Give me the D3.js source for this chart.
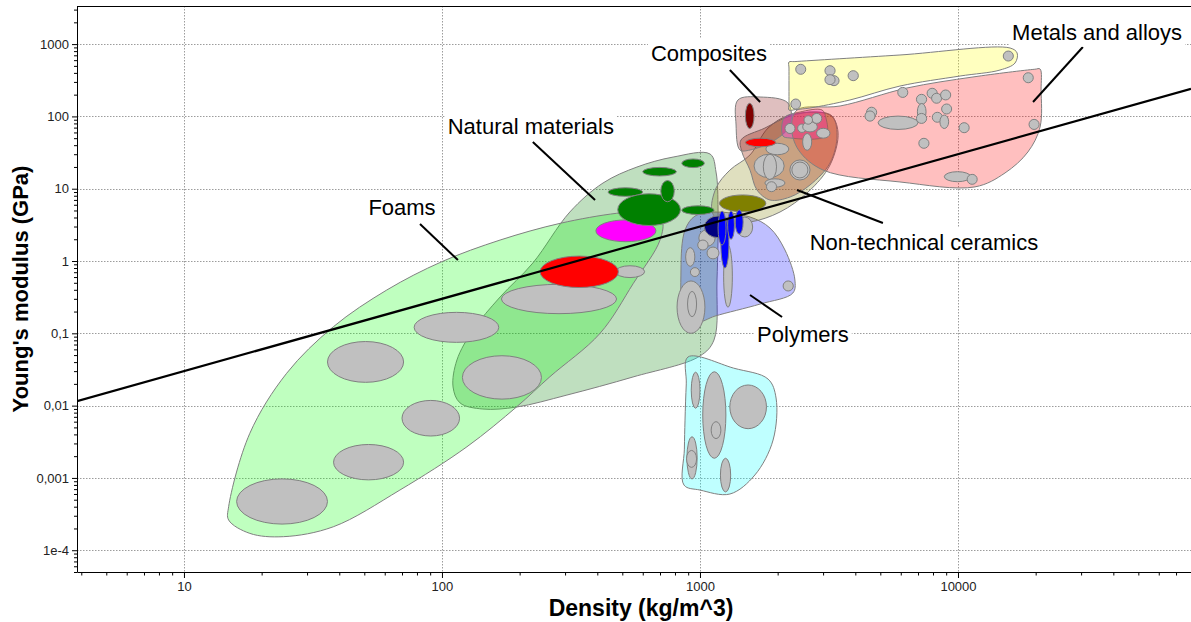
<!DOCTYPE html>
<html>
<head>
<meta charset="utf-8">
<script src="https://cdn.jsdelivr.net/npm/d3@7"></script>
<style>
  body { margin: 0; background: #fff; }
  svg { display: block; }
  text { font-family: Arial, "Liberation Sans", sans-serif; }
</style>
</head>
<body>
<svg id="chart" width="1191" height="622"></svg>
<script>
// ---- Axes ------------------------------------------------------------
const densityDomain = [3.85, 80000];          // kg/m^3
const modulusDomain = [5e-5, 3365];           // GPa
const xTickValues = [10, 100, 1000, 10000];
const xTickLabels = ["10", "100", "1000", "10000"];
const yTickValues = [1e-4, 1e-3, 0.01, 0.1, 1, 10, 100, 1000];
const yTickLabels = ["1e-4", "0,001", "0,01", "0,1", "1", "10", "100", "1000"];
const xTitle = "Density (kg/m^3)";
const yTitle = "Young's modulus (GPa)";
const guideRatio = 0.003;                     // E / rho guide line

// ---- Family envelopes: [density, modulus] outline points --------------
const naturalEnvelope = [[1094,30.2],[1154,17.0],[1175,5.08],[1164,0.546],[1133,0.0808],[1000,0.0485],
  [550,0.0249],[305,0.0140],[195,0.00957],[144,0.00897],[117.5,0.0109],[110.4,0.0181],[114.3,0.0428],
  [131.9,0.111],[168,0.318],[225,0.938],[313,4.76],[421,12.0],[570,19.95],[787,27.4]];
const foamEnvelope = [[14.9,4.0e-4],[18.0,4.14e-3],[25.0,0.028],[37.9,0.123],[61.1,0.397],[99.8,0.978],
  [168,1.95],[287,3.32],[475,4.57],[603,4.81],[711,3.69],[700,1.95],[552,0.492],[410,0.1],[262,0.0251],
  [195,0.00966],[125,0.0027],[68.7,6.8e-4],[37.9,2.11e-4],[24.3,1.54e-4],[18.0,1.71e-4],[14.9,2.62e-4]];
const elastomerEnvelope = [[898,0.047],[1350,0.033],[1836,0.0233],[1972,0.01274],[1920,0.00334],
  [1633,0.0011],[1306,5.99e-4],[1000,6.8e-4],[867,7.97e-4],[870,0.0025],[875,0.0063],[885,0.02]];
const polymerEnvelope = [[875,2.68],[957,4.19],[1143,4.76],[1563,4.06],[1868,2.86],[2135,1.42],
  [2333,0.546],[2291,0.361],[1710,0.254],[1143,0.173],[982,0.143],[875,0.173],[844,0.751]];
const nonTechCeramicEnvelope = [[1114,4.76],[1154,10.2],[1306,18.1],[1563,29.3],[1836,69.1],[2234,104.5],
  [3192,104.5],[3428,60.8],[3192,21.3],[2624,9.0],[2042,4.76],[1563,3.46],[1216,3.46]];
const techCeramicEnvelope = [[1442,47.2],[1786,69.1],[2234,101.3],[2793,115],[3251,101.3],[3398,55.3],
  [3192,22.7],[2669,11.25],[2234,7.68],[1868,6.98],[1663,9.6],[1563,18.1],[1454,32.2]];
const compositeEnvelope = [[1403,168.6],[1710,185.5],[2193,153.2],[2234,76.0],[1954,47.2],[1563,34.3],
  [1429,34.3],[1380,76.0]];
const fibreCompositeEnvelope = [[2118,95.1],[2444,115],[2973,122.5],[3078,95.1],[3078,53.6],[2234,50.3],[2097,53.6]];
const nonFerrousEnvelope = [[2377,122.5],[3491,139.3],[6339,247],[11430,351],[19860,449],[20800,452.5],
  [20990,232],[20800,71.3],[18660,32.2],[15210,16.5],[11640,10.6],[5957,12.4],[3001,18.1],[2410,34.3],[2265,69.1]];
const ferrousEnvelope = [[2213,565],[2333,573],[5957,707],[15920,883],[16950,753],[16640,548],[14550,438],
  [10190,362],[5957,263],[3811,168.6],[2669,130.7],[2355,124.5],[2213,122.5],[2213,148.5],[2213,467]];

// ---- Material bubbles: [rhoMin, rhoMax, Emin, Emax] -------------------
const foamCells = [[16,36,2.3e-4,9.7e-4],[38,71,9.4e-4,2.9e-3],[70,117,3.8e-3,0.0118],[36,71,0.021,0.077],
  [78,166,0.075,0.195],[120,243,0.0123,0.049],[170,475,0.187,0.476],[470,610,0.59,0.86]];
const foamRed = [[240,483,0.43,1.17]];
const corkMagenta = [[395,675,1.85,3.7]];
const naturalCells = [[440,600,7.85,10.3],[600,810,15,19.7],[850,1040,19.6,25.8],[480,840,3.1,8.5],
  [705,795,6.6,13],[850,1135,4.4,5.8]];
const oliveCells = [[1190,1800,4.8,8.2]];
const polymerCells = [[1235,1335,0.23,1.66],[1390,1600,2.15,4.05],[990,1145,1.6,2.7],[980,1075,1.42,1.95],
  [1065,1185,1.07,1.56],[880,955,0.845,1.53],[918,995,0.61,0.81],[815,1045,0.1,0.53],[895,970,0.17,0.38],
  [2100,2300,0.385,0.53]];
const navyCells = [[1040,1335,2.1,4.2]];
const blueCells = [[1205,1295,0.8,3.9],[1175,1262,1.66,4.92],[1280,1360,2.0,4.9],[1370,1470,2.35,5.1]];
const elastomerCells = [[925,1000,0.0092,0.029],[1025,1260,0.00187,0.0294],[1105,1205,0.0035,0.006],
  [1305,1810,0.0048,0.0193],[890,975,9.7e-4,3.7e-3],[887,970,0.0014,0.0024],[1200,1315,6.4e-4,1.87e-3]];
const darkRedCells = [[1500,1620,68,152]];
const redCompositeCells = [[1500,1965,38,50]];
const ceramicCells = [[1800,2210,29.5,42.5],[1620,2120,14.2,30],[1760,1980,13.4,30],[2230,2670,13.2,25],
  [2270,2620,14.1,23.4],[1785,2135,10.5,13.7],[1810,1980,9.1,12.5],[2500,2710,34,58],[2135,2335,58,80],
  [2390,2580,60,78.5],[2500,2850,61,84.5],[2710,2965,80,110],[2530,2730,78,102],[2830,3190,50,68.5],
  [2250,2455,126,174]];
const metalCells = [[2350,2570,382,526],[3050,3340,366,503],[3160,3460,266,366],[3050,3340,275,378],
  [3750,4110,312,429],[14980,16390,583,802],[17900,19580,292,402],[18850,20630,66,91],[10100,11050,59.5,81.9],
  [7050,7720,36.2,49.8],[8850,11200,12.5,17.2],[10850,11870,11.5,15.8],[4900,7000,66,101],[4420,4840,97,134],
  [4360,4770,86,119],[5840,6390,183,252],[6900,7560,147,202],[7590,8310,178,245],[7900,8640,152,209],
  [8560,9370,169,232],[6960,7520,89,151],[6900,7560,80,110],[8640,9450,108,148.5],[7950,8700,83,114],
  [8510,9200,68,104.5]];

// ---- Family labels ----------------------------------------------------
const labelTexts = ["Metals and alloys", "Composites", "Natural materials", "Foams", "Non-technical ceramics", "Polymers"];
const labelAnchors = [[34600,1470],[1084,753],[221,73.7],[70.0,5.58],[7380,1.83],[2506,0.0978]];
const leaderStarts = [[30480,912],[1306,438],[225,44.3],[82.2,3.25],[5117,3.35],[2080,0.168]];
const leaderEnds = [[19540,158],[1710,158],[392,6.98],[115.3,1.03],[2377,9.6],[1563,0.339]];

// ---- Layout -----------------------------------------------------------
const svg = d3.select("#chart");
const plot = { left: 77, right: 1191, top: 6, bottom: 572 };
const x = d3.scaleLog().domain(densityDomain).range([plot.left, plot.right]);
const y = d3.scaleLog().domain(modulusDomain).range([plot.bottom, plot.top]);

svg.append("defs").append("clipPath").attr("id", "plotClip")
  .append("rect").attr("x", plot.left).attr("y", plot.top)
  .attr("width", plot.right - plot.left).attr("height", plot.bottom - plot.top);

// grid
const grid = svg.append("g").attr("stroke", "#9c9c9c").attr("stroke-width", 1).attr("stroke-dasharray", "1.5,1.5");
grid.selectAll("line.gx").data(xTickValues).join("line")
  .attr("x1", d => Math.round(x(d)) + 0.5).attr("x2", d => Math.round(x(d)) + 0.5)
  .attr("y1", plot.top).attr("y2", plot.bottom);
grid.selectAll("line.gy").data(yTickValues).join("line")
  .attr("y1", d => Math.round(y(d)) + 0.5).attr("y2", d => Math.round(y(d)) + 0.5)
  .attr("x1", plot.left).attr("x2", plot.right);

const body = svg.append("g").attr("clip-path", "url(#plotClip)");

// envelopes
const outline = d3.line().x(d => x(d[0])).y(d => y(d[1])).curve(d3.curveCatmullRomClosed.alpha(0.5));
const envelopes = [
  { pts: naturalEnvelope, fill: "#008000", op: 0.25 },
  { pts: foamEnvelope, fill: "#00ff00", op: 0.25 },
  { pts: elastomerEnvelope, fill: "#00ffff", op: 0.25 },
  { pts: polymerEnvelope, fill: "#0000ff", op: 0.25 },
  { pts: nonTechCeramicEnvelope, fill: "#808000", op: 0.25 },
  { pts: techCeramicEnvelope, fill: "#a03010", op: 0.35 },
  { pts: compositeEnvelope, fill: "#800000", op: 0.25 },
  { pts: fibreCompositeEnvelope, fill: "#ff00ff", op: 0.28 },
  { pts: nonFerrousEnvelope, fill: "#ff0000", op: 0.25 },
  { pts: ferrousEnvelope, fill: "#ffff00", op: 0.25 }
];
body.selectAll("path.env").data(envelopes).join("path")
  .attr("class", "env")
  .attr("d", d => outline(d.pts))
  .attr("fill", d => d.fill).attr("fill-opacity", d => d.op)
  .attr("stroke", "#808080").attr("stroke-width", 1);

// bubbles
function drawCells(cells, fill) {
  body.append("g").selectAll("ellipse").data(cells).join("ellipse")
    .attr("cx", d => (x(d[0]) + x(d[1])) / 2)
    .attr("cy", d => (y(d[2]) + y(d[3])) / 2)
    .attr("rx", d => (x(d[1]) - x(d[0])) / 2)
    .attr("ry", d => (y(d[2]) - y(d[3])) / 2)
    .attr("fill", fill).attr("stroke", "#808080").attr("stroke-width", 1);
}
drawCells(foamCells, "#c0c0c0");
drawCells(foamRed, "#ff0000");
drawCells(corkMagenta, "#ff00ff");
drawCells(naturalCells, "#008000");
drawCells(oliveCells, "#808000");
drawCells(polymerCells, "#c0c0c0");
drawCells(navyCells, "#000080");
drawCells(blueCells, "#0000ff");
drawCells(elastomerCells, "#c0c0c0");
drawCells(ceramicCells, "#c0c0c0");
drawCells(darkRedCells, "#800000");
drawCells(redCompositeCells, "#ff0000");
drawCells(metalCells, "#c0c0c0");

// guide line E = ratio * rho
body.append("line")
  .attr("x1", x(densityDomain[0])).attr("y1", y(guideRatio * densityDomain[0]))
  .attr("x2", x(densityDomain[1])).attr("y2", y(guideRatio * densityDomain[1]))
  .attr("stroke", "#000").attr("stroke-width", 2.2);

// axes
const xMinor = x.ticks().filter(v => !xTickValues.some(t => Math.abs(t - v) < 1e-9));
const yMinor = y.ticks().filter(v => !yTickValues.some(t => Math.abs(t / v - 1) < 1e-6));

const xAxis = svg.append("g").attr("transform", `translate(0,${plot.bottom})`);
xAxis.call(d3.axisBottom(x).tickValues(xTickValues).tickFormat((d, i) => xTickLabels[i]).tickSize(6).tickSizeOuter(0).tickPadding(4));
xAxis.append("g").call(d3.axisBottom(x).tickValues(xMinor).tickFormat("").tickSize(3.5).tickSizeOuter(0))
  .select(".domain").remove();

const yAxis = svg.append("g").attr("transform", `translate(${plot.left},0)`);
yAxis.call(d3.axisLeft(y).tickValues(yTickValues).tickFormat((d, i) => yTickLabels[i]).tickSize(5).tickSizeOuter(0).tickPadding(3));
yAxis.append("g").call(d3.axisLeft(y).tickValues(yMinor).tickFormat("").tickSize(3).tickSizeOuter(0))
  .select(".domain").remove();

svg.selectAll(".tick text").attr("font-size", 13).attr("fill", "#222")
  .attr("font-family", "Arial, 'Liberation Sans', sans-serif");
svg.selectAll(".domain, .tick line").attr("stroke", "#000");

// top frame
svg.append("line").attr("x1", plot.left).attr("x2", plot.right)
  .attr("y1", plot.top + 0.5).attr("y2", plot.top + 0.5).attr("stroke", "#000");

// axis titles
svg.append("text").attr("x", 641).attr("y", 616)
  .attr("text-anchor", "middle").attr("font-size", 23).attr("font-weight", "bold").text(xTitle);
svg.append("text").attr("transform", `translate(28,${(plot.top + plot.bottom) / 2}) rotate(-90)`)
  .attr("text-anchor", "middle").attr("font-size", 22).attr("font-weight", "bold").text(yTitle);

// labels with white boxes and leaders
const labels = svg.append("g");
labelTexts.forEach((t, i) => {
  labels.append("line")
    .attr("x1", x(leaderStarts[i][0])).attr("y1", y(leaderStarts[i][1]))
    .attr("x2", x(leaderEnds[i][0])).attr("y2", y(leaderEnds[i][1]))
    .attr("stroke", "#000").attr("stroke-width", 2);
  const g = labels.append("g");
  const txt = g.append("text")
    .attr("x", x(labelAnchors[i][0])).attr("y", y(labelAnchors[i][1]))
    .attr("dy", "0.35em").attr("text-anchor", "middle")
    .attr("font-size", 22).attr("fill", "#000").text(t);
  const b = txt.node().getBBox();
  g.insert("rect", "text").attr("x", b.x - 3).attr("y", b.y - 2)
    .attr("width", b.width + 6).attr("height", b.height + 4).attr("fill", "#fff");
});
</script>
</body>
</html>
